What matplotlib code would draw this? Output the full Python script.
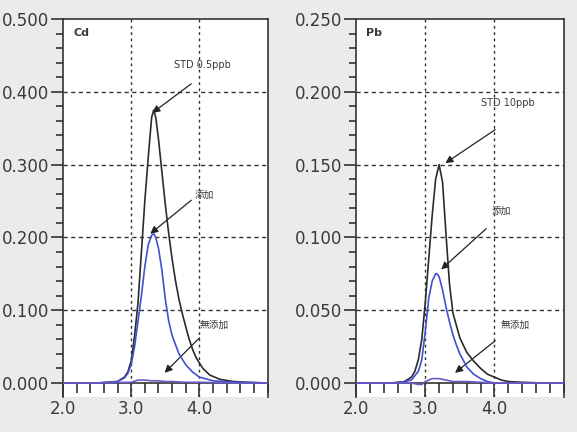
import matplotlib.pyplot as plt
from matplotlib.ticker import MultipleLocator, FormatStrFormatter

plt.rcParams['font.family'] = ['DejaVu Sans', 'Noto Sans CJK JP']

# Cd パネル
cd_std_x = [2.0, 2.5, 2.8, 2.9, 2.95, 3.0, 3.05, 3.1, 3.15, 3.2, 3.25, 3.3, 3.33, 3.36,
            3.4, 3.45, 3.5, 3.55, 3.6, 3.65, 3.7, 3.75, 3.8, 3.85, 3.9, 3.95, 4.05, 4.15,
            4.3, 4.5, 4.7, 5.0]
cd_std_y = [0.0, 0.0, 0.002, 0.008, 0.015, 0.03, 0.065, 0.11, 0.18, 0.25, 0.31, 0.365, 0.375, 0.365,
            0.335, 0.29, 0.245, 0.205, 0.17, 0.14, 0.115, 0.095, 0.077, 0.06, 0.046, 0.035, 0.02, 0.011,
            0.005, 0.002, 0.001, 0.0]
cd_add_x = [2.0, 2.5, 2.8, 2.9, 2.95, 3.0, 3.05, 3.1, 3.15, 3.2, 3.25, 3.3, 3.33, 3.36,
            3.4, 3.45, 3.5, 3.55, 3.6, 3.7, 3.8, 3.9, 4.0, 4.2, 4.5, 5.0]
cd_add_y = [0.0, 0.0, 0.002, 0.007, 0.013, 0.025, 0.05, 0.085, 0.12, 0.16, 0.19, 0.203, 0.205, 0.2,
            0.185, 0.155, 0.115, 0.085, 0.065, 0.04, 0.025, 0.015, 0.008, 0.003, 0.001, 0.0]
cd_none_x = [2.0, 2.5, 3.0, 3.1, 3.2, 3.3, 3.4, 3.5, 3.6, 3.8, 4.0, 4.5, 5.0]
cd_none_y = [0.0, 0.0, 0.001, 0.004, 0.004, 0.003, 0.003, 0.002, 0.002, 0.001, 0.001, 0.0, 0.0]

# Pb パネル
pb_std_x = [2.0, 2.5, 2.7, 2.8, 2.85, 2.9, 2.95, 3.0, 3.05, 3.1, 3.15, 3.2, 3.25, 3.3,
            3.35, 3.4, 3.5, 3.6, 3.7, 3.8, 3.9, 4.0, 4.1, 4.2, 4.4, 4.7, 5.0]
pb_std_y = [0.0, 0.0, 0.001, 0.004, 0.008, 0.016, 0.03, 0.055, 0.085, 0.115, 0.14, 0.15, 0.138, 0.102,
            0.068, 0.048, 0.031, 0.021, 0.015, 0.01, 0.006, 0.004, 0.002, 0.001, 0.0005, 0.0, 0.0]
pb_add_x = [2.0, 2.6, 2.8, 2.9, 2.95, 3.0, 3.05, 3.1, 3.15, 3.17, 3.2, 3.25, 3.3, 3.35,
            3.4, 3.45, 3.5, 3.6, 3.7, 3.8, 3.9, 4.0, 4.5, 5.0]
pb_add_y = [0.0, 0.0, 0.002, 0.008, 0.016, 0.035, 0.058, 0.07, 0.075, 0.075, 0.073, 0.064, 0.052, 0.042,
            0.033, 0.026, 0.02, 0.011, 0.006, 0.003, 0.001, 0.0, 0.0, 0.0]
pb_none_x = [2.0, 2.8, 2.9, 2.95, 3.0, 3.1, 3.2, 3.3, 3.4, 3.6, 4.0, 5.0]
pb_none_y = [0.0, 0.0, -0.001, -0.001, 0.001, 0.003, 0.003, 0.002, 0.001, 0.001, 0.0, 0.0]

# 注記 (テキスト位置, 矢印の根元, 矢印の先)
cd_notes = [("STD 0.5ppb", (3.63, 0.437), (3.88, 0.411), (3.31, 0.371)),
            ("添加", (3.93, 0.258), (3.88, 0.251), (3.28, 0.205)),
            ("無添加", (4.0, 0.080), (4.0, 0.062), (3.49, 0.014))]
pb_notes = [("STD 10ppb", (3.81, 0.192), (4.01, 0.174), (3.29, 0.151)),
            ("添加", (3.96, 0.118), (3.88, 0.106), (3.23, 0.078)),
            ("無添加", (4.09, 0.040), (4.01, 0.029), (3.43, 0.007))]

BLACK = '#2b2b2b'
BLUE = '#4150cf'
PURPLE = '#6a5ac8'
TXT = '#3a3a3a'

fig = plt.figure(figsize=(5.77, 4.32), dpi=100, facecolor='#ebebeb')
ax1 = fig.add_axes([0.109, 0.081, 0.355, 0.875])
ax2 = fig.add_axes([0.617, 0.081, 0.360, 0.875])


def setup(ax, ymax, ystep, label, notes):
    ax.set_facecolor('white')
    ax.set_xlim(2.0, 5.0)
    ax.set_ylim(-0.0385 * ymax, ymax)
    ax.spines['bottom'].set_position(('data', 0))
    ax.spines['right'].set_linestyle((0, (2, 1)))
    for s in ax.spines.values():
        s.set_color('#333333')
        s.set_linewidth(1.2)
    ax.yaxis.set_major_locator(MultipleLocator(ystep))
    ax.yaxis.set_minor_locator(MultipleLocator(ystep / 5))
    ax.yaxis.set_major_formatter(FormatStrFormatter('%.3f'))
    ax.xaxis.set_major_locator(MultipleLocator(1.0))
    ax.xaxis.set_minor_locator(MultipleLocator(0.2))
    ax.xaxis.set_major_formatter(FormatStrFormatter('%.1f'))
    ax.set_xticks([2.0, 3.0, 4.0])
    ax.tick_params(axis='y', which='major', length=9, width=1.2, pad=1, labelsize=12,
                   color='#333333', labelcolor=TXT)
    ax.tick_params(axis='y', which='minor', length=5, width=1.2, color='#333333')
    ax.tick_params(axis='x', which='major', length=10, width=1.2, pad=2, labelsize=12,
                   color='#333333', labelcolor=TXT)
    ax.tick_params(axis='x', which='minor', length=7, width=1.2, color='#333333')
    # グリッド
    for k in range(1, int(round(ymax / ystep))):
        ax.axhline(k * ystep, color='#333333', lw=1.0, ls=(0, (3, 2.5)), zorder=1)
    for xv in [3.0, 4.0]:
        ax.axvline(xv, color='#333333', lw=1.0, ls=(0, (2, 2.5)), zorder=1)
    ax.text(0.05, 0.962, label, transform=ax.transAxes, fontsize=8, fontweight='bold',
            color=TXT, ha='left', va='center')
    for txt, tpos, tail, head in notes:
        ax.text(tpos[0], tpos[1], txt, fontsize=7, color=TXT, ha='left', va='center')
        ax.annotate('', xy=head, xytext=tail,
                    arrowprops=dict(arrowstyle='-|>', color='#222222', lw=0.9,
                                    mutation_scale=11, shrinkA=0, shrinkB=0))


setup(ax1, 0.5, 0.1, 'Cd', cd_notes)
ax1.plot(cd_std_x, cd_std_y, color=BLACK, lw=1.2, zorder=3)
ax1.plot(cd_add_x, cd_add_y, color=BLUE, lw=1.2, zorder=4)
ax1.plot(cd_none_x, cd_none_y, color=PURPLE, lw=1.2, zorder=4)

setup(ax2, 0.25, 0.05, 'Pb', pb_notes)
ax2.plot(pb_std_x, pb_std_y, color=BLACK, lw=1.2, zorder=3)
ax2.plot(pb_add_x, pb_add_y, color=BLUE, lw=1.2, zorder=4)
ax2.plot(pb_none_x, pb_none_y, color=PURPLE, lw=1.2, zorder=4)

fig.savefig('out.png', dpi=100, facecolor=fig.get_facecolor())
